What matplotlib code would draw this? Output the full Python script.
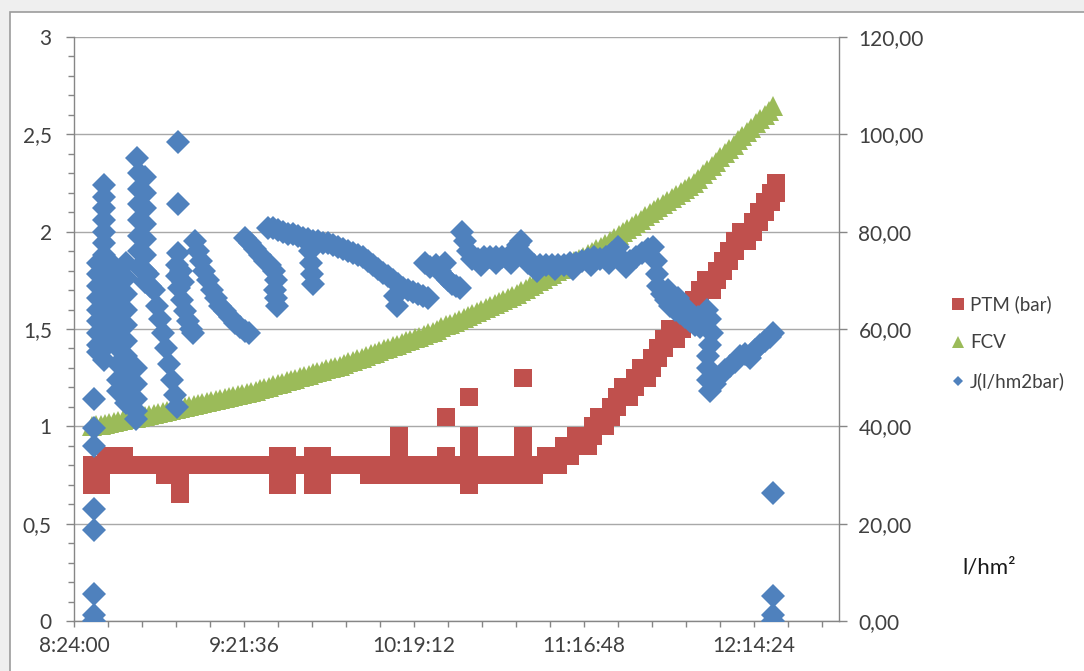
import matplotlib

matplotlib.use("Agg")
import matplotlib.pyplot as plt
from matplotlib.lines import Line2D
from matplotlib.patches import Rectangle
from matplotlib.ticker import FuncFormatter, MultipleLocator

plt.rcParams["font.family"] = ["Lato", "DejaVu Sans"]

# sample times are minutes after the 8:24:00 start of the run
START_MIN = 8 * 60 + 24

# FCV, volume concentration factor (left axis), logged every 1.5 min
fcv_time = [6, 7.5, 9, 10.5, 12, 13.5, 15, 16.5, 18, 19.5, 21, 22.5, 24, 25.5, 27, 28.5, 30,
            31.5, 33, 34.5, 36, 37.5, 39, 40.5, 42, 43.5, 45, 46.5, 48, 49.5, 51, 52.5, 54, 55.5, 57, 58.5, 60,
            61.5, 63, 64.5, 66, 67.5, 69, 70.5, 72, 73.5, 75, 76.5, 78, 79.5, 81, 82.5, 84, 85.5, 87, 88.5, 90,
            91.5, 93, 94.5, 96, 97.5, 99, 100.5, 102, 103.5, 105, 106.5, 108, 109.5, 111, 112.5, 114, 115.5, 117, 118.5, 120,
            121.5, 123, 124.5, 126, 127.5, 129, 130.5, 132, 133.5, 135, 136.5, 138, 139.5, 141, 142.5, 144, 145.5, 147, 148.5, 150,
            151.5, 153, 154.5, 156, 157.5, 159, 160.5, 162, 163.5, 165, 166.5, 168, 169.5, 171, 172.5, 174, 175.5, 177, 178.5, 180,
            181.5, 183, 184.5, 186, 187.5, 189, 190.5, 192, 193.5, 195, 196.5, 198, 199.5, 201, 202.5, 204, 205.5, 207, 208.5, 210,
            211.5, 213, 214.5, 216, 217.5, 219, 220.5, 222, 223.5, 225, 226.5, 228, 229.5, 231, 232.5, 234, 235.5, 237]
fcv = [1.000, 1.005, 1.009, 1.014, 1.018, 1.023, 1.027, 1.032, 1.036, 1.041, 1.045, 1.050, 1.054, 1.059, 1.063, 1.068, 1.072,
       1.077, 1.083, 1.088, 1.093, 1.098, 1.104, 1.109, 1.114, 1.119, 1.125, 1.130, 1.135, 1.140, 1.146, 1.151, 1.156, 1.161, 1.167, 1.172, 1.177,
       1.184, 1.191, 1.197, 1.204, 1.211, 1.218, 1.224, 1.231, 1.238, 1.245, 1.251, 1.258, 1.265, 1.272, 1.278, 1.285, 1.292, 1.299, 1.305, 1.312,
       1.320, 1.329, 1.337, 1.345, 1.353, 1.362, 1.370, 1.378, 1.386, 1.395, 1.403, 1.411, 1.419, 1.428, 1.436, 1.444, 1.452, 1.461, 1.469, 1.477,
       1.487, 1.497, 1.508, 1.518, 1.528, 1.538, 1.548, 1.559, 1.569, 1.579, 1.589, 1.599, 1.610, 1.620, 1.630, 1.640, 1.650, 1.661, 1.671, 1.681,
       1.694, 1.707, 1.719, 1.732, 1.745, 1.758, 1.770, 1.783, 1.796, 1.809, 1.821, 1.834, 1.847, 1.860, 1.872, 1.885, 1.898, 1.911, 1.923, 1.936,
       1.952, 1.968, 1.983, 1.999, 2.015, 2.031, 2.046, 2.062, 2.078, 2.094, 2.109, 2.125, 2.141, 2.157, 2.172, 2.188, 2.204, 2.220, 2.235, 2.251,
       2.273, 2.295, 2.316, 2.338, 2.360, 2.382, 2.403, 2.425, 2.447, 2.469, 2.490, 2.512, 2.534, 2.556, 2.577, 2.599, 2.621, 2.643]

# PTM, transmembrane pressure in bar (left axis)
ptm_time = [6, 10, 14, 18, 22, 26, 30, 34, 38, 42, 46, 50, 54, 58, 62, 66, 70, 74, 78, 82,
            86, 90, 94, 98, 102, 106, 110, 114, 118, 122, 126, 130, 134, 138, 142, 146, 150, 154, 158,
            6, 9, 6, 9, 11, 15, 17,
            31, 36, 36, 36,
            69, 69, 69, 72, 72, 72, 81, 81, 81, 84, 84, 84,
            100, 104, 108, 112, 116, 120, 124, 128, 132, 136, 140, 144, 148, 152, 156,
            110, 110, 110, 126, 126, 134, 134, 134, 134, 134, 152, 152, 152, 152,
            160, 160, 162, 162, 164, 164, 166, 166, 168, 168, 170, 170, 172, 172, 174, 174, 176, 176, 178, 178,
            180, 180, 182, 182, 184, 184, 186, 186, 188, 188, 190, 190, 192, 192, 194, 194, 196, 196, 198, 198,
            200, 200, 202, 202, 204, 204, 206, 206, 208, 208, 210, 210, 212, 212, 214, 214, 216, 216, 218, 218,
            220, 220, 222, 222, 224, 224, 226, 226, 228, 228, 230, 230, 232, 232, 234, 234, 236, 236, 238, 238]
ptm = [0.80, 0.80, 0.80, 0.80, 0.80, 0.80, 0.80, 0.80, 0.80, 0.80, 0.80, 0.80, 0.80, 0.80, 0.80, 0.80, 0.80, 0.80, 0.80, 0.80,
       0.80, 0.80, 0.80, 0.80, 0.80, 0.80, 0.80, 0.80, 0.80, 0.80, 0.80, 0.80, 0.80, 0.80, 0.80, 0.80, 0.80, 0.80, 0.80,
       0.75, 0.75, 0.70, 0.70, 0.85, 0.85, 0.85,
       0.75, 0.75, 0.70, 0.65,
       0.85, 0.75, 0.70, 0.85, 0.75, 0.70, 0.85, 0.75, 0.70, 0.85, 0.75, 0.70,
       0.75, 0.75, 0.75, 0.75, 0.75, 0.75, 0.75, 0.75, 0.75, 0.75, 0.75, 0.75, 0.75, 0.75, 0.75,
       0.85, 0.90, 0.95, 0.85, 1.05, 0.95, 0.90, 0.85, 0.70, 1.15, 0.95, 0.90, 0.85, 1.25,
       0.80, 0.85, 0.80, 0.85, 0.85, 0.80, 0.85, 0.90, 0.90, 0.85, 0.90, 0.95, 0.90, 0.95, 0.95, 0.90, 1.00, 0.95, 1.00, 1.05,
       1.05, 1.00, 1.10, 1.05, 1.10, 1.15, 1.15, 1.20, 1.20, 1.15, 1.25, 1.20, 1.25, 1.30, 1.30, 1.25, 1.35, 1.30, 1.40, 1.35,
       1.40, 1.45, 1.45, 1.50, 1.50, 1.45, 1.55, 1.50, 1.60, 1.55, 1.60, 1.65, 1.65, 1.70, 1.70, 1.75, 1.75, 1.70, 1.80, 1.75,
       1.85, 1.80, 1.85, 1.90, 1.90, 1.95, 1.95, 2.00, 2.00, 1.95, 2.05, 2.00, 2.05, 2.10, 2.10, 2.15, 2.15, 2.20, 2.20, 2.25]

# J, permeate flux in l/hm2bar (right axis)
j_time = [6.8, 6.8, 6.8, 6.8, 6.8, 6.8, 6.8, 6.8,
          10, 10, 10, 10, 10, 10, 10,
          8, 8, 8, 8, 8, 8, 8, 8, 8,
          10, 10, 10, 10, 10, 10, 10, 10, 10,
          12, 12, 12, 12, 12, 12, 12, 12,
          15, 15, 15, 15, 15, 15, 15, 15, 15,
          17.5, 17.5, 17.5, 17.5, 17.5, 17.5, 17.5, 17.5, 17.5, 17.5,
          21, 21, 21, 21, 21,
          21.4, 22, 22, 22, 22, 22, 22, 22,
          24, 24, 24, 24, 24, 24, 24, 24,
          25.1, 25.8, 27.1, 28.1, 29.1, 30.2, 31.2, 32.2, 33.2, 34.2, 34.9,
          35.2, 35.2,
          35.2, 34.9, 34.9, 35.6, 36.6, 37.6, 38.6, 39.6, 40.3, 36.3, 36.9,
          41.0, 42.0, 43.0, 44.1, 45.4, 46.8, 48.1, 49.5, 51.2, 52.9, 54.6, 56.3, 57.9, 59.3,
          57.9, 59.6, 61.3, 63.0, 64.7, 66.4, 67.8, 68.5, 68.1, 68.5, 68.8,
          65.7, 67.4, 69.1, 70.8, 72.5, 74.2, 75.9, 77.6, 79.3, 81.0, 82.7, 84.4, 86.1, 87.8, 89.5, 91.2, 92.9,
          94.5, 96.2, 97.9, 99.6, 101.3, 103.0, 104.7, 106.4, 108.1, 109.8, 111.5, 113.2, 114.9, 116.6, 118.3, 120.0,
          80.0, 80.3, 80.7, 81.0, 108.8, 109.5,
          118.9, 120.6, 122.7, 124.0, 125.7, 125.4, 126.7, 128.1, 129.4, 130.8,
          131.5, 132.5, 133.5, 134.9, 136.9, 138.9, 141.0, 143.0, 145.0, 147.1, 149.1, 150.5, 151.5, 152.5,
          153.8, 155.9, 157.9, 159.9, 162.0, 164.0, 166.0, 168.1, 170.1, 172.1, 174.2, 176.2, 178.2, 180.3,
          182.3, 184.3, 185.7, 187.1, 188.4, 190.4, 192.5, 194.5, 196.2,
          137.9, 143.0, 148.1, 157.0, 163.0, 169.1, 175.2, 181.3,
          197.2, 197.6, 197.9, 199.3, 200.6, 202.0, 203.7, 205.4, 207.1, 208.7, 210.4, 212.1,
          213.5, 214.5, 215.5, 216.2, 215.5, 214.8, 214.8, 214.8, 215.5,
          217.2, 218.9, 220.6, 222.3, 224.0, 225.7, 227.4, 229.1, 230.8, 232.5, 234.2, 235.9, 236.9,
          201.3, 204.7, 208.1, 211.4,
          236.9, 236.9, 236.9, 236.9]
j_flux = [0.0, 1.2, 5.6, 18.8, 23.0, 36.0, 39.6, 45.6,
          89.6, 87.2, 84.8, 82.4, 80.0, 77.6, 75.2,
          73.6, 71.2, 68.8, 66.4, 64.0, 61.6, 59.2, 56.8, 55.2,
          72.8, 70.4, 68.0, 65.6, 63.2, 60.8, 58.4, 56.0, 53.6,
          74.0, 71.6, 69.2, 66.8, 64.4, 62.0, 59.6, 57.2,
          72.0, 68.8, 65.6, 62.4, 59.2, 56.0, 52.8, 49.6, 47.2,
          73.6, 70.4, 67.2, 64.0, 60.8, 57.6, 54.4, 51.2, 48.0, 44.8,
          52.0, 48.8, 45.6, 43.2, 41.6,
          95.2, 92.0, 88.8, 85.6, 82.4, 79.2, 76.0, 72.8,
          91.2, 88.0, 84.8, 81.6, 78.4, 75.2, 72.0, 69.6,
          71.2, 68.8, 68.0, 64.8, 62.0, 59.2, 56.0, 52.8, 49.6, 46.4, 44.0,
          98.4, 85.6,
          75.6, 73.2, 70.8, 68.4, 66.0, 63.6, 61.6, 60.0, 59.2, 72.0, 69.6,
          78.0, 76.0, 74.0, 72.0, 70.0, 68.0, 66.4, 64.8, 63.6, 62.4, 61.2, 60.4, 59.6, 59.2,
          78.8, 77.6, 76.4, 75.2, 74.0, 73.2, 72.0, 70.0, 68.0, 66.4, 64.8,
          80.8, 80.8, 80.4, 80.0, 79.6, 79.6, 79.2, 78.8, 78.4, 78.0, 78.0, 77.6, 77.6, 77.2, 76.8, 76.4, 76.0,
          75.6, 75.2, 74.8, 74.0, 73.2, 72.4, 71.6, 70.8, 70.0, 69.2, 68.4, 68.0, 67.6, 67.2, 66.8, 66.4,
          76.0, 73.6, 71.2, 69.2, 66.8, 64.8,
          73.6, 72.8, 73.2, 72.0, 73.6, 70.8, 70.0, 69.2, 68.8, 68.4,
          80.0, 78.0, 76.0, 74.4, 74.4, 74.8, 74.8, 74.8, 74.8, 74.8, 75.2, 77.2, 78.0, 75.2,
          73.6, 73.2, 73.2, 73.2, 73.2, 73.2, 73.2, 73.6, 73.6, 74.0, 74.4, 74.8, 74.4, 74.8,
          75.6, 76.8, 74.4, 72.8, 74.0, 74.8, 75.6, 76.4, 76.8,
          73.2, 73.6, 73.6, 72.0, 72.4, 72.4, 73.2, 73.6,
          74.0, 71.2, 68.8, 67.2, 66.0, 64.8, 64.0, 63.2, 62.4, 61.6, 60.8, 60.4,
          62.4, 64.0, 62.0, 59.2, 56.8, 54.4, 52.0, 49.6, 47.2,
          48.8, 50.4, 51.6, 52.4, 53.2, 54.4, 54.8, 54.0, 55.6, 56.8, 57.6, 58.4, 59.2,
          68.0, 66.4, 64.0, 62.4,
          26.3, 5.1, 1.2, 0.0]

RED = "#C0504D"
GREEN = "#9BBB59"
BLUE = "#4F81BD"
TEXT = "#404040"
AXIS = "#868686"


def clock(m, _pos=None):
    s = int(round((START_MIN + m) * 60))
    return f"{s // 3600}:{s % 3600 // 60:02d}:{s % 60:02d}"


W, H = 1084, 671
fig = plt.figure(figsize=(W / 100, H / 100), dpi=100, facecolor="#efefef")
# white chart area with its thin grey border, kept behind the axes
fig.patches.append(Rectangle((10 / W, -0.02), 1.0, (H - 12) / H + 0.02, transform=fig.transFigure,
                             facecolor="white", edgecolor="#9c9c9c", lw=1.2, zorder=-5))

ax = fig.add_axes([74 / W, 1 - 621 / H, (839 - 74) / W, (621 - 37) / H])
ax.patch.set_alpha(0)
ax2 = ax.twinx()

ax.plot(ptm_time, ptm, ls="none", marker="s", ms=13, color=RED, mec=RED, mew=0)
ax.plot(fcv_time, fcv, ls="none", marker="^", ms=15, color=GREEN, mec=GREEN, mew=0)
ax2.plot(j_time, j_flux, ls="none", marker="D", ms=12.5, color=BLUE, mec=BLUE, mew=0)

ax.set_xlim(0, 259.2)
ax.set_ylim(0, 3)
ax2.set_ylim(0, 120)

ax.xaxis.set_major_locator(MultipleLocator(57.6))
ax.xaxis.set_minor_locator(MultipleLocator(11.52))
ax.xaxis.set_major_formatter(FuncFormatter(clock))
ax.yaxis.set_major_locator(MultipleLocator(0.5))
ax.yaxis.set_minor_locator(MultipleLocator(0.1))
ax.yaxis.set_major_formatter(FuncFormatter(lambda v, p: f"{v:g}".replace(".", ",")))
ax2.yaxis.set_major_locator(MultipleLocator(20))
ax2.yaxis.set_major_formatter(FuncFormatter(lambda v, p: f"{v:.2f}".replace(".", ",")))

ax.grid(axis="y", color="#a8a8a8", lw=1.0)
ax.set_axisbelow(True)

for a in (ax, ax2):
    a.spines["top"].set_visible(False)
    for s in ("left", "right", "bottom"):
        a.spines[s].set_color(AXIS)
        a.spines[s].set_linewidth(1.0)
ax.spines["right"].set_visible(False)
ax2.spines["left"].set_visible(False)
ax2.spines["bottom"].set_visible(False)

ax.tick_params(axis="y", which="major", length=6, width=1, color=AXIS, labelsize=15, labelcolor=TEXT, pad=10)
ax.tick_params(axis="y", which="minor", length=4, width=1, color=AXIS)
ax.tick_params(axis="x", which="both", length=4, width=1, color=AXIS, labelsize=15, labelcolor=TEXT, pad=7)
ax2.tick_params(axis="y", which="major", length=6, width=1, color=AXIS, labelsize=15, labelcolor=TEXT, pad=8)

handles = [
    Line2D([], [], ls="none", marker="s", ms=8, color=RED, mew=0),
    Line2D([], [], ls="none", marker="^", ms=8, color=GREEN, mew=0),
    Line2D([], [], ls="none", marker="D", ms=5, color=BLUE, mew=0),
]
fig.legend(handles, ["PTM (bar)", "FCV", "J(l/hm2bar)"], loc="upper left",
           bbox_to_anchor=(941 / W, 1 - 286 / H), frameon=False, fontsize=13.5,
           labelcolor=TEXT, handlelength=0.8, handletextpad=0.25, labelspacing=1.12, borderpad=0)

fig.text(989 / W, 1 - 567 / H, "l/hm²", fontsize=16, color="#1a1a1a", ha="center", va="center")

fig.savefig("out.png", dpi=100, facecolor=fig.get_facecolor())
